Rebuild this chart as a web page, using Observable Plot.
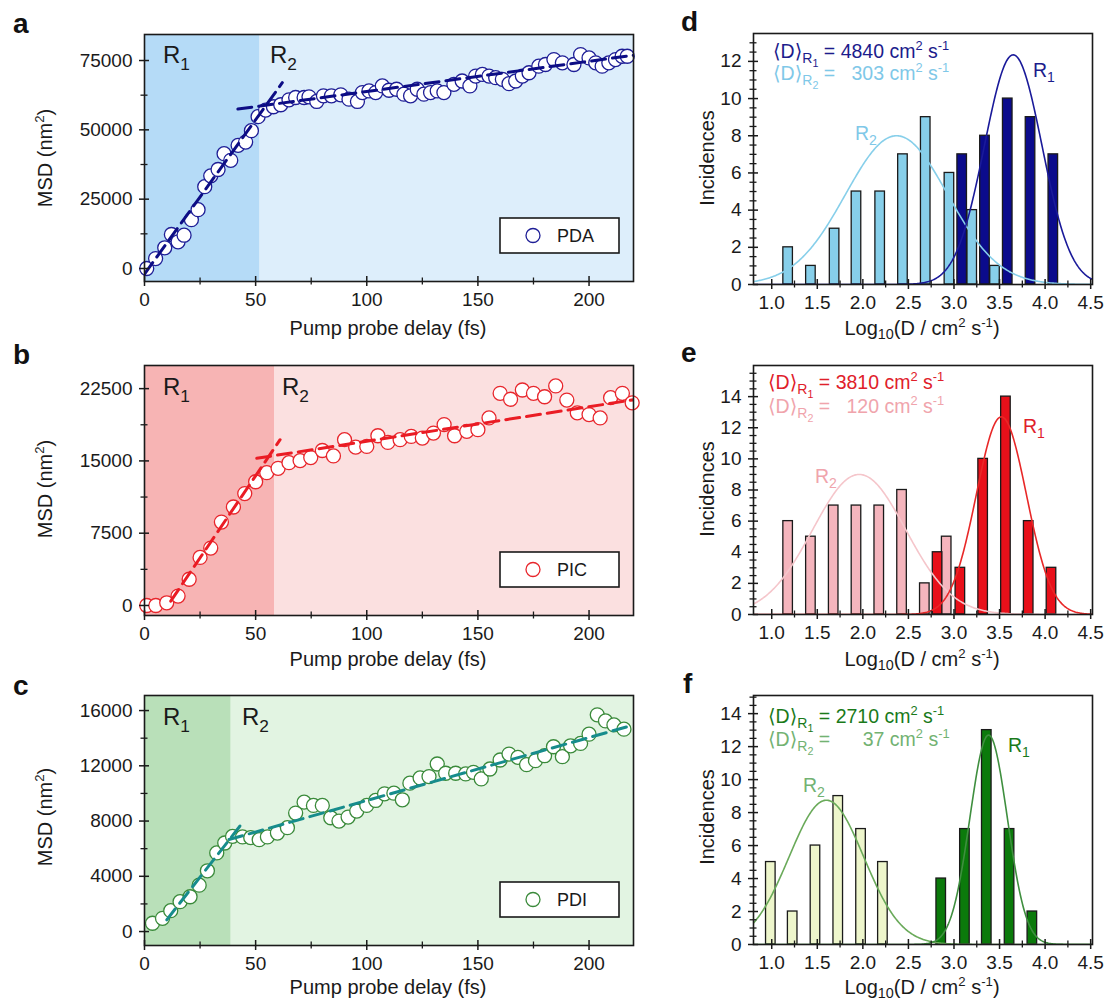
<!DOCTYPE html>
<html><head><meta charset="utf-8">
<script src="https://cdn.jsdelivr.net/npm/d3@7"></script>
<script src="https://cdn.jsdelivr.net/npm/@observablehq/plot@0.6"></script>
<style>
html,body{margin:0;padding:0;background:#fff;}
#root{position:relative;width:1110px;height:1003px;overflow:hidden;font-family:"Liberation Sans",Arial,"DejaVu Sans",sans-serif;}
#root > div.panel{position:absolute;}
#overlay{position:absolute;left:0;top:0;pointer-events:none;}
</style></head><body><div id="root"></div>
<script>
// ---------------- DATA ----------------
// Panel a: PDA
const pdaDelay = [1,5,9.1,12.1,15.1,17.8,21.1,24.1,27.1,29.8,33.1,35.8,38.8,42.1,45.5,48.1,51.1,54.5,58,61.3,65,68,71.8,74,77.5,80.5,84.1,88.3,92,95.8,98,101,104,107,110,113.4,116.7,119.7,122.7,125.7,128.7,131.7,134.7,139.2,142.9,146.4,149,152,155,158,161,164,167,170,173,177.4,180.4,184.2,188,193.2,196.2,200,203,205.9,208.9,211.9,214.9,217.2];
const pdaMSD = [0,3570,7470,12250,9630,12000,17600,21200,29500,33400,35700,41400,39000,44400,45600,49700,54750,57130,58320,59040,60820,61660,61660,61900,60230,62260,62260,62620,61070,60230,63440,64030,63440,65830,64280,64630,62850,62260,64630,62850,63440,64030,63440,66420,67610,65830,69400,69990,69400,68800,68210,66660,67610,69400,70590,72970,73560,75350,74160,73560,77130,75940,74160,72970,74160,75350,76540,76540];
const pdaRegionSplit = 52;
const pdaFitR1X = [0, 62], pdaFitR1Y = [-2000, 67000];
const pdaFitR2X = [42, 220], pdaFitR2Y = [57500, 76900];
const pdaYTicks = [0, 25000, 50000, 75000], pdaYMinor = [12500, 37500, 62500];

// Panel b: PIC
const picDelay = [1,5.1,10,15.1,20.1,25,29.8,34.6,40,45.1,50,55,60.1,65,70,74.8,80,85,90,95,100,105,109.5,115,120,125,130,134.8,139.5,145,150,155,160,164.7,170,175,180,185,190,194.7,200,205,209.7,215,219.4];
const picMSD = [0,0,280,977,2720,4990,5960,8650,10220,11610,12840,13780,14230,14820,15030,15350,16080,15520,17200,16430,16500,17610,16920,17200,17540,17370,17890,18770,17610,18070,18240,19460,22010,21400,22360,22010,21660,22780,21310,19990,19810,19460,21560,22010,21030];
const picRegionSplit = 58.5;
const picFitR1X = [11.8, 61], picFitR1Y = [450, 17200];
const picFitR2X = [50.5, 220], picFitR2Y = [15270, 21340];
const picYTicks = [0, 7500, 15000, 22500], picYMinor = [3750, 11250, 18750];

// Panel c: PDI
const pdiDelay = [3.6,8.1,11.8,16,20.5,24.6,28.3,32.5,36.1,39.6,44.1,47.8,51.6,55.3,59.8,64.3,68,71.8,76,80,83.8,87.5,91.6,95.5,100,104,108,112.2,116,119.4,124,128,131.7,135.5,140,144.5,148,151.5,155.4,160,164,168,171.9,175.9,180,184,188,191.7,196.2,200,203.7,207.4,211.2,215.7];
const pdiMSD = [600,960,1510,2160,2520,3360,4400,5690,6410,6890,6850,6800,6650,6850,7130,7520,8580,9370,9130,9130,8240,8000,8290,8720,9130,9490,9970,10020,9540,10740,11120,11220,12130,11460,11460,11410,11530,11050,11770,12420,12850,12610,12080,12370,12730,13380,12660,13450,13620,14290,15690,15250,14960,14650];
const pdiRegionSplit = 39;
const pdiFitR1X = [10, 43], pdiFitR1Y = [850, 7650];
const pdiFitR2X = [38, 217], pdiFitR2Y = [6660, 14820];
const pdiYTicks = [0, 4000, 8000, 12000, 16000], pdiYMinor = [2000, 6000, 10000, 14000];

const delayTicks = [0, 50, 100, 150, 200], delayMinor = [25, 75, 125, 175];

// Histograms: log10(D) bin centres and counts
const dBinR2 = [1.18,1.43,1.69,1.93,2.19,2.44,2.69,2.95,3.20,3.45], dCountR2 = [2,1,3,5,5,7,9,6,4,1];
const dBinR1 = [3.09,3.34,3.59,3.84,4.09], dCountR1 = [7,8,10,9,7];
const eBinR2 = [1.18,1.43,1.68,1.93,2.18,2.43,2.68,2.92], eCountR2 = [6,5,7,7,7,8,2,5];
const eBinR1 = [2.82,3.07,3.32,3.57,3.82,4.07], eCountR1 = [4,3,10,14,6,3];
const fBinR2 = [0.99,1.23,1.48,1.73,1.98,2.22], fCountR2 = [5,2,6,9,7,5];
const fBinR1 = [2.86,3.12,3.36,3.61,3.86], fCountR1 = [4,7,13,7,2];
// Gaussian fits: [amplitude, mean, sigma]
const dFitR1 = [12.35, 3.65, 0.315], dFitR2 = [8.0, 2.37, 0.56];
const eFitR1 = [12.7, 3.52, 0.275], eFitR2 = [9.0, 1.96, 0.51];
const fFitR1 = [12.7, 3.38, 0.205], fFitR2 = [8.75, 1.60, 0.41];
const logTicks = [1.0,1.5,2.0,2.5,3.0,3.5,4.0,4.5], logMinor = [1.25,1.75,2.25,2.75,3.25,3.75,4.25];
const dYTicks = [0,2,4,6,8,10,12], eYTicks = [0,2,4,6,8,10,12,14], fYTicks = [0,2,4,6,8,10,12,14];
const meanD = {d: ["4840", "303"], e: ["3810", "120"], f: ["2710", "37"]};

// ---------------- RENDER ----------------
const FONT = '"Liberation Sans", Arial, "DejaVu Sans", sans-serif';
const INK = "#1a1a1a";
const root = document.getElementById("root");
function place(node, left, top) {
  const d = document.createElement("div");
  d.className = "panel"; d.style.left = left + "px"; d.style.top = top + "px";
  d.appendChild(node); root.appendChild(d);
}
function axesMarks({xMajor, xMinor, yMajor, yMinor, pw, ph, xFmt, yFmt}) {
  return [
    Plot.axisX({ticks: xMajor, tickSize: 5, tickPadding: 6, fontSize: 19, label: null, stroke: INK, strokeWidth: 1.5, tickFormat: xFmt}),
    Plot.axisX({ticks: xMinor, tickSize: 3.5, tickFormat: () => "", label: null, stroke: INK, strokeWidth: 1.3}),
    Plot.axisY({ticks: yMajor, tickSize: 5, tickPadding: 7, fontSize: 19, label: null, stroke: INK, strokeWidth: 1.5, tickFormat: yFmt}),
    Plot.axisY({ticks: yMinor, tickSize: 3.5, tickFormat: () => "", label: null, stroke: INK, strokeWidth: 1.3}),
    Plot.tickX(xMajor, {x: d => d, insetTop: ph - 5, stroke: INK, strokeWidth: 1.5}),
    Plot.tickX(xMinor, {x: d => d, insetTop: ph - 3.5, stroke: INK, strokeWidth: 1.3}),
    Plot.tickY(yMajor, {y: d => d, insetRight: pw - 5, stroke: INK, strokeWidth: 1.5}),
    Plot.tickY(yMinor, {y: d => d, insetRight: pw - 3.5, stroke: INK, strokeWidth: 1.3}),
    Plot.frame({stroke: INK, strokeWidth: 1.6})
  ];
}
const styleObj = {fontFamily: FONT, fontSize: "19px", color: INK, background: "transparent", overflow: "visible"};

function scatter(c) {
  const W = 660, mL = 144, mR = 27;
  const pw = W - mL - mR, ph = c.H - c.mT - c.mB;
  const xMax = 220;
  const pts = c.delay.map((x, i) => ({x, y: c.msd[i]}));
  const f1 = c.f1x.map((x, i) => ({x, y: c.f1y[i]}));
  const f2 = c.f2x.map((x, i) => ({x, y: c.f2y[i]}));
  return Plot.plot({
    width: W, height: c.H, marginLeft: mL, marginRight: mR, marginTop: c.mT, marginBottom: c.mB,
    x: {domain: [0, xMax]}, y: {domain: c.yDomain},
    style: styleObj,
    marks: [
      Plot.rect([0], {x1: 0, x2: c.split, y1: c.yDomain[0], y2: c.yDomain[1], fill: c.shade1}),
      Plot.rect([0], {x1: c.split, x2: xMax, y1: c.yDomain[0], y2: c.yDomain[1], fill: c.shade2}),
      Plot.dot(pts, {x: "x", y: "y", r: 7, fill: "white", stroke: c.mark, strokeWidth: 1.3}),
      Plot.line(f1, {x: "x", y: "y", stroke: c.line, strokeWidth: 3, strokeDasharray: "14,7", clip: true}),
      Plot.line(f2, {x: "x", y: "y", stroke: c.line, strokeWidth: 3, strokeDasharray: "14,7", clip: true}),
      ...axesMarks({xMajor: delayTicks, xMinor: delayMinor, yMajor: c.yMajor, yMinor: c.yMinor, pw, ph, xFmt: "d", yFmt: "d"})
    ]
  });
}

function gauss(p) {
  const [a, m, s] = p;
  return d3.range(0.8, 4.5201, 0.01).map(x => ({x, y: a * Math.exp(-((x - m) ** 2) / (2 * s * s))}));
}
function hist(c) {
  const W = 460, mL = 103, mR = 18;
  const pw = W - mL - mR, ph = c.H - c.mT - c.mB;
  const bw = 0.105;
  const b2 = c.bin2.map((x, i) => ({x, n: c.n2[i]}));
  const b1 = c.bin1.map((x, i) => ({x, n: c.n1[i]}));
  const yMinor = d3.range(0.5, c.yMax, 0.5).filter(v => v % 2 !== 0);
  return Plot.plot({
    width: W, height: c.H, marginLeft: mL, marginRight: mR, marginTop: c.mT, marginBottom: c.mB,
    x: {domain: [0.8, 4.52]}, y: {domain: [0, c.yMax]},
    style: styleObj,
    marks: [
      Plot.rect(b2, {x1: d => d.x - bw / 2, x2: d => d.x + bw / 2, y1: 0, y2: "n", fill: c.bar2, stroke: INK, strokeWidth: 1.3}),
      Plot.rect(b1, {x1: d => d.x - bw / 2, x2: d => d.x + bw / 2, y1: 0, y2: "n", fill: c.bar1, stroke: INK, strokeWidth: 1.3}),
      Plot.line(gauss(c.g2), {x: "x", y: "y", stroke: c.curve2, strokeWidth: 1.6, clip: true}),
      Plot.line(gauss(c.g1), {x: "x", y: "y", stroke: c.curve1, strokeWidth: 1.6, clip: true}),
      ...axesMarks({xMajor: logTicks, xMinor: logMinor, yMajor: c.yMajor, yMinor, pw, ph, xFmt: ".1f", yFmt: "d"})
    ]
  });
}

place(scatter({H: 320, mT: 34, mB: 39, delay: pdaDelay, msd: pdaMSD, split: pdaRegionSplit, yDomain: [-4690, 84380], yMajor: pdaYTicks, yMinor: pdaYMinor,
  f1x: pdaFitR1X, f1y: pdaFitR1Y, f2x: pdaFitR2X, f2y: pdaFitR2Y, shade1: "#b5dbf7", shade2: "#ddeefb", mark: "#1e1e96", line: "#0d0d85"}), 0, 0);
place(scatter({H: 320, mT: 35, mB: 35, delay: picDelay, msd: picMSD, split: picRegionSplit, yDomain: [-1040, 24900], yMajor: picYTicks, yMinor: picYMinor,
  f1x: picFitR1X, f1y: picFitR1Y, f2x: picFitR2X, f2y: picFitR2Y, shade1: "#f7b4b4", shade2: "#fbe0e0", mark: "#e8262c", line: "#ea1c24"}), 0, 330);
place(scatter({H: 320, mT: 35, mB: 35, delay: pdiDelay, msd: pdiMSD, split: pdiRegionSplit, yDomain: [-1010, 17090], yMajor: pdiYTicks, yMinor: pdiYMinor,
  f1x: pdiFitR1X, f1y: pdiFitR1Y, f2x: pdiFitR2X, f2y: pdiFitR2Y, shade1: "#b9e0b9", shade2: "#e2f4e2", mark: "#3a8a3a", line: "#178c8c"}), 0, 660);

place(hist({H: 320, mT: 33, mB: 36, yMax: 13.5, yMajor: dYTicks, bin2: dBinR2, n2: dCountR2, bin1: dBinR1, n1: dCountR1, g1: dFitR1, g2: dFitR2,
  bar2: "#87cfea", bar1: "#0b0b8c", curve2: "#87cfea", curve1: "#1a1a9a"}), 650, 0);
place(hist({H: 320, mT: 35, mB: 36, yMax: 16, yMajor: eYTicks, bin2: eBinR2, n2: eCountR2, bin1: eBinR1, n1: eCountR1, g1: eFitR1, g2: eFitR2,
  bar2: "#f5b5bd", bar1: "#e8101a", curve2: "#f5c6cb", curve1: "#e82828"}), 650, 330);
place(hist({H: 320, mT: 35, mB: 36, yMax: 15.1, yMajor: fYTicks, bin2: fBinR2, n2: fCountR2, bin1: fBinR1, n1: fCountR1, g1: fFitR1, g2: fFitR2,
  bar2: "#eef6cc", bar1: "#0b7a0b", curve2: "#6aaa5a", curve1: "#3f8f3f"}), 650, 660);

// ---------------- TEXT OVERLAY ----------------
const NS = "http://www.w3.org/2000/svg";
const ov = document.createElementNS(NS, "svg");
ov.setAttribute("width", 1110); ov.setAttribute("height", 1003); ov.id = "overlay";
function el(name, attrs, parent = ov) {
  const e = document.createElementNS(NS, name);
  for (const k in attrs) e.setAttribute(k, attrs[k]);
  parent.appendChild(e); return e;
}
function rich(x, y, parts, {size = 20, color = INK, anchor = "start", weight = "normal", rotate = 0, subShift = 0.28, supShift = -0.42} = {}) {
  const t = el("text", {x, y, "font-size": size, fill: color, "text-anchor": anchor, "font-weight": weight, "font-family": FONT, style: "white-space:pre"});
  if (rotate) t.setAttribute("transform", `rotate(${rotate},${x},${y})`);
  let shift = 0;
  for (const [s, k = "n"] of parts) {
    const off = {n: 0, sub: subShift, sup: supShift, sub2: 0.48}[k] * size;
    const fs = {n: size, sub: 0.72 * size, sup: 0.66 * size, sub2: 0.55 * size}[k];
    const sp = el("tspan", {dy: off - shift, "font-size": fs}, t);
    sp.textContent = s; shift = off;
  }
  return t;
}
// panel letters
[["a", 13, 33], ["b", 13, 364], ["c", 13, 695], ["d", 681, 31], ["e", 681, 362], ["f", 683, 693]].forEach(([s, x, y]) =>
  rich(x, y, [[s]], {size: 28, weight: "bold", color: "#111"}));
// axis labels
[0, 331, 659].forEach(o => {
  rich(52, 158 + o, [["MSD (nm"], ["2", "sup"], [")"]], {rotate: -90, anchor: "middle"});
  rich(388, 335 + o, [["Pump probe delay (fs)"]], {anchor: "middle"});
  rich(714, 158 + o, [["Incidences"]], {rotate: -90, anchor: "middle"});
  rich(922, 335 + o, [["Log"], ["10", "sub"], ["(D / cm"], ["2", "sup"], [" s"], ["-1", "sup"], [")"]], {anchor: "middle", subShift: 0.22, supShift: -0.38});
});
// region labels
[[163, 270, 63], [163, 282, 395], [163, 242, 725]].forEach(([x1, x2, y]) => {
  rich(x1, y, [["R"], ["1", "sub"]], {size: 24});
  rich(x2, y, [["R"], ["2", "sub"]], {size: 24});
});
// legends
[["PDA", 218, "#1e1e96"], ["PIC", 552, "#e8262c"], ["PDI", 882, "#3a8a3a"]].forEach(([name, y, col]) => {
  el("rect", {x: 500, y, width: 119, height: 35, fill: "white", stroke: INK, "stroke-width": 1.6});
  el("circle", {cx: 533, cy: y + 17.5, r: 7, fill: "white", stroke: col, "stroke-width": 1.3});
  rich(557, y + 24, [[name]], {size: 18});
});
// histogram annotations
const histText = [
  {key: "d", x: 773, y1: 58, y2: 80, c1: "#1c1c8c", c2: "#7fc8e8", pad2: "  ", r2: [855, 140], r1: [1033, 77]},
  {key: "e", x: 768, y1: 389, y2: 413, c1: "#e0202a", c2: "#f0a4ac", pad2: "  ", r2: [815, 483], r1: [1023, 433]},
  {key: "f", x: 768, y1: 723, y2: 746, c1: "#1a7a1a", c2: "#72b272", pad2: "     ", r2: [803, 792], r1: [1008, 752]}
];
histText.forEach(h => {
  const [v1, v2] = meanD[h.key];
  rich(h.x, h.y1, [["\u27E8D\u27E9"], ["R", "sub"], ["1", "sub2"], [" = " + v1 + " cm", "n"], ["2", "sup"], [" s"], ["-1", "sup"]], {size: 19.5, color: h.c1});
  rich(h.x, h.y2, [["\u27E8D\u27E9"], ["R", "sub"], ["2", "sub2"], [" = " + h.pad2 + v2 + " cm", "n"], ["2", "sup"], [" s"], ["-1", "sup"]], {size: 19.5, color: h.c2});
  rich(h.r2[0], h.r2[1], [["R"], ["2", "sub"]], {size: 19.5, color: h.c2});
  rich(h.r1[0], h.r1[1], [["R"], ["1", "sub"]], {size: 19.5, color: h.c1});
});
root.appendChild(ov);
</script></body></html>
